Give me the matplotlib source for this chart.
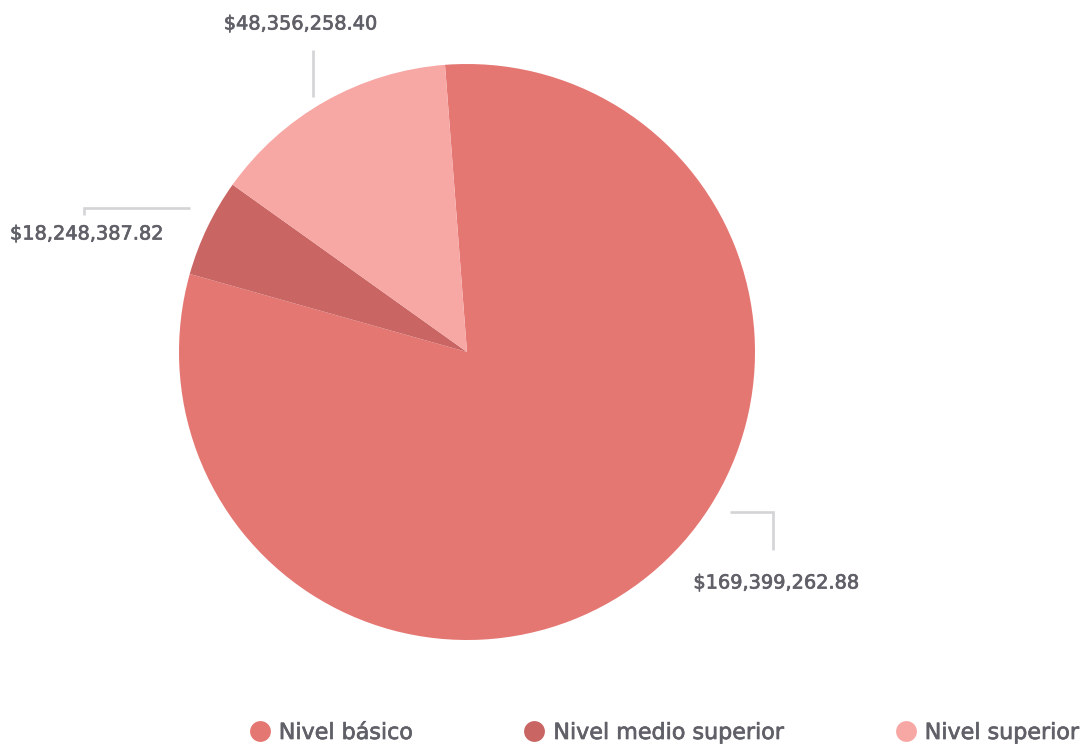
import matplotlib.pyplot as plt
import matplotlib.patheffects as pe
from matplotlib.lines import Line2D

# slice shares as drawn in the picture (degrees of the circle)
categories = ["Nivel básico", "Nivel medio superior", "Nivel superior"]
shares = [290.1, 19.8, 50.1]
amounts = [169399262.88, 18248387.82, 48356258.40]
colors = ["#E57773", "#C96563", "#F7A7A4"]
text_color = "#606068"
line_color = "#d4d4d6"

plt.rcParams['font.family'] = ['DejaVu Sans']

W, H = 1087, 744
cx, cy, R = 467, 352, 288

fig = plt.figure(figsize=(W / 100, H / 100), dpi=100)
ax = fig.add_axes([(cx - R) / W, (H - cy - R) / H, 2 * R / W, 2 * R / H])

ax.pie(shares, colors=colors, startangle=94.38, counterclock=False,
       radius=1, wedgeprops=dict(linewidth=0))
ax.set_xlim(-1, 1)
ax.set_ylim(-1, 1)
ax.set_aspect('equal')
ax.axis('off')

# a thin stroke to get the medium weight of the original font
medium = [pe.withStroke(linewidth=0.5, foreground=text_color)]


def px(x, y):
    # pixel position -> pie data coordinates
    return (x - cx) / R, (cy - y) / R


def leader(points):
    xs, ys = zip(*[px(x, y) for x, y in points])
    ax.plot(xs, ys, color=line_color, lw=1.9, clip_on=False,
            solid_capstyle='butt', solid_joinstyle='miter')


def fmt(v):
    return "${:,.2f}".format(v)


lab_size = 13.9

# Nivel básico
leader([(730, 512), (773, 512), (773, 550)])
ax.text(*px(776, 583), fmt(amounts[0]), ha='center', va='center',
        fontsize=lab_size, color=text_color, clip_on=False, path_effects=medium)

# Nivel medio superior
leader([(190, 208), (84, 208), (84, 215)])
ax.text(*px(10, 234), fmt(amounts[1]), ha='left', va='center',
        fontsize=lab_size, color=text_color, clip_on=False, path_effects=medium)

# Nivel superior
leader([(313, 50), (313, 97)])
ax.text(*px(300, 24), fmt(amounts[2]), ha='center', va='center',
        fontsize=lab_size, color=text_color, clip_on=False, path_effects=medium)

handles = [Line2D([], [], marker='o', linestyle='none', markersize=15,
                  markerfacecolor=c, markeredgewidth=0) for c in colors]
leg = fig.legend(handles, categories, loc='center', ncol=3,
                 bbox_to_anchor=(664 / W, 1 - 733 / H), frameon=False,
                 fontsize=16, columnspacing=4.95, handletextpad=0.36,
                 handlelength=1.0, borderpad=0)
for t in leg.get_texts():
    t.set_color(text_color)
    t.set_path_effects(medium)

fig.savefig("out.png", dpi=100)
